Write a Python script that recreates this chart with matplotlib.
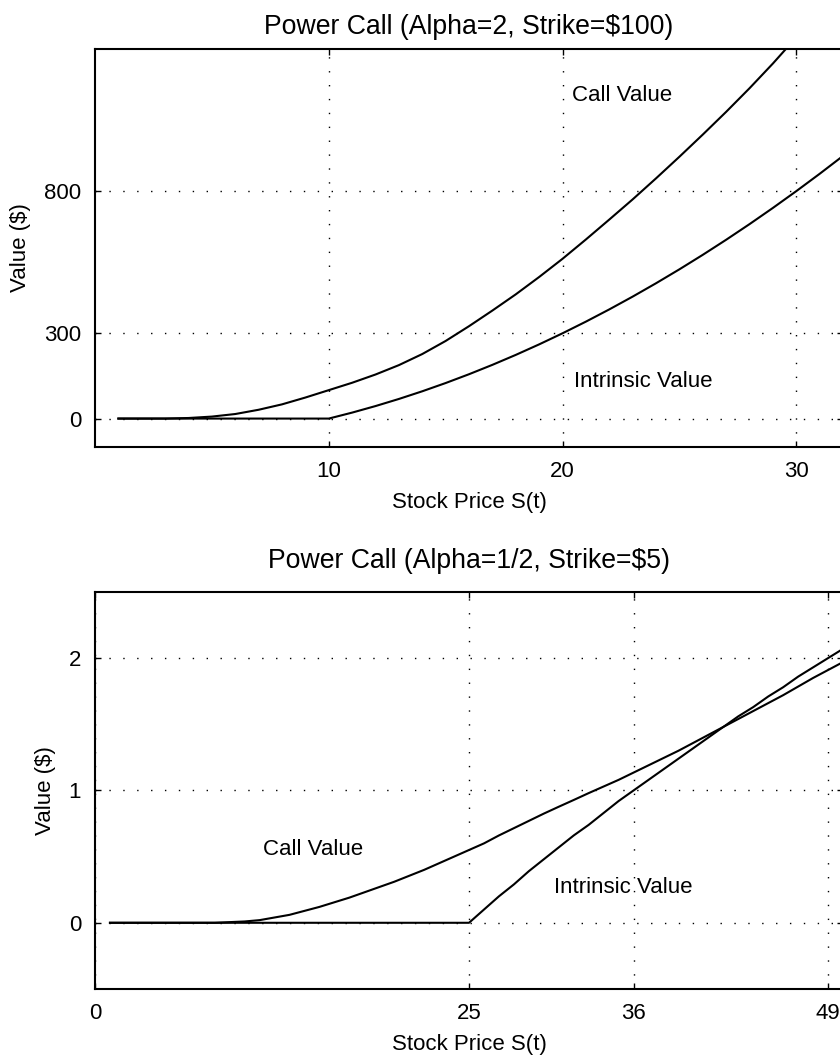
import numpy as np
import matplotlib.pyplot as plt

plt.rcParams['font.family'] = ['Liberation Sans', 'DejaVu Sans']
plt.rcParams['font.size'] = 16

# top panel: alpha = 2, strike = $100
s_top = [1, 2, 3, 4, 5, 6, 7, 8, 9, 10, 11, 12, 13, 14, 15, 16, 17, 18, 19, 20,
         21, 22, 23, 24, 25, 26, 27, 28, 29, 30, 31, 32]
call_top = [0, 0, 0, 2, 7, 16, 31, 50, 74, 100, 126, 155, 188, 227, 273, 325,
            380, 437, 498, 562, 630, 700, 771, 845, 921, 999, 1079, 1162, 1249,
            1341, 1435, 1530]
intr_top = [0, 0, 0, 0, 0, 0, 0, 0, 0, 0, 21, 44, 69, 96, 125, 156, 189, 224,
            261, 300, 341, 384, 429, 476, 525, 576, 629, 684, 741, 800, 861, 924]

# bottom panel: alpha = 1/2, strike = $5
s_bot = [1, 5, 8, 9, 10, 11, 12, 13, 14, 15, 16, 17, 18, 19, 20, 21, 22, 23,
         24, 25, 26, 27, 28, 29, 30, 31, 32, 33, 34, 35, 36, 37, 38, 39, 40,
         41, 42, 43, 44, 45, 46, 47, 48, 49, 50]
call_bot = [0, 0, 0, 0.005, 0.01, 0.02, 0.04, 0.06, 0.09, 0.12, 0.155, 0.19,
            0.23, 0.27, 0.31, 0.355, 0.40, 0.45, 0.50, 0.55, 0.60, 0.66, 0.715,
            0.77, 0.825, 0.877, 0.928, 0.98, 1.03, 1.08, 1.135, 1.19, 1.245,
            1.30, 1.36, 1.42, 1.48, 1.54, 1.60, 1.66, 1.72, 1.785, 1.85, 1.91,
            1.97]
s_bot_intr = [1, 25, 26, 27, 28, 29, 30, 31, 32, 33, 34, 35, 36, 37, 38, 39,
              40, 41, 42, 43, 44, 45, 46, 47, 48, 49, 50]
intr_bot = [0, 0, 0.10, 0.20, 0.29, 0.39, 0.48, 0.57, 0.66, 0.74, 0.83, 0.92,
            1.00, 1.08, 1.16, 1.24, 1.32, 1.40, 1.48, 1.56, 1.63, 1.71, 1.78,
            1.86, 1.93, 2.00, 2.07]

fig = plt.figure(figsize=(8.4, 10.61), dpi=100)
ax1 = fig.add_axes([0.1131, 0.5787, 0.8905, 0.3751])
ax2 = fig.add_axes([0.1131, 0.0679, 0.8905, 0.3742])


def style(ax):
    for sp in ax.spines.values():
        sp.set_linewidth(1.5)
    ax.tick_params(direction='in', length=4, width=1, top=True, right=True,
                   pad=10)
    ax.grid(True, color='k', linestyle=(0, (1, 9)), linewidth=1.0)
    ax.set_xlabel('Stock Price S(t)', labelpad=7)
    ax.set_ylabel('Value ($)', labelpad=9)


ax1.plot(s_top, call_top, 'k', lw=1.5)
ax1.plot(s_top, intr_top, 'k', lw=1.5)
ax1.set_xlim(0, 32)
ax1.set_ylim(-100, 1300)
ax1.set_xticks([10, 20, 30])
ax1.set_yticks([0, 300, 800])
ax1.set_title('Power Call (Alpha=2, Strike=$100)', pad=11)
ax1.text(20.4, 1135, 'Call Value', va='center')
ax1.text(20.5, 132, 'Intrinsic Value', va='center')
style(ax1)

ax2.plot(s_bot, call_bot, 'k', lw=1.5)
ax2.plot(s_bot_intr, intr_bot, 'k', lw=1.5)
ax2.set_xlim(0, 50)
ax2.set_ylim(-0.5, 2.5)
ax2.set_xticks([0, 25, 36, 49])
ax2.set_yticks([0, 1, 2])
ax2.set_title('Power Call (Alpha=1/2, Strike=$5)', pad=17)
ax2.text(11.2, 0.55, 'Call Value', va='center')
ax2.text(30.7, 0.27, 'Intrinsic Value', va='center')
style(ax2)

fig.savefig('out.png', dpi=100)
